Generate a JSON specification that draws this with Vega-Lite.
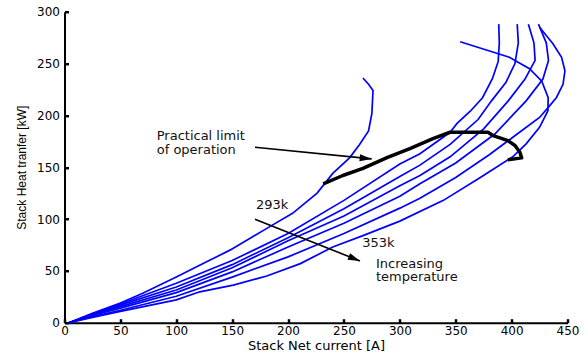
{
  "$schema": "https://vega.github.io/schema/vega-lite/v6.json",
  "width": 503,
  "height": 311,
  "autosize": {"type": "none"},
  "padding": {"left": 64.5, "top": 11.7, "right": 20.5, "bottom": 40.3},
  "background": "white",
  "config": {
    "view": {"stroke": null},
    "axis": {
      "grid": false,
      "domainColor": "#000",
      "domainWidth": 2,
      "tickColor": "#000",
      "tickWidth": 2.5,
      "tickSize": -4,
      "labelColor": "#000",
      "labelFont": "DejaVu Sans",
      "labelFontSize": 12,
      "labelFlush": false,
      "labelOverlap": false,
      "titleColor": "#000",
      "titleFontWeight": "normal"
    }
  },
  "datasets": {
    "curves": [
      {"s":"293k","i":0,"x":4,"y":0},{"s":"293k","i":1,"x":25,"y":9},{"s":"293k","i":2,"x":50,"y":19},{"s":"293k","i":3,"x":70,"y":28.5},{"s":"293k","i":4,"x":100,"y":44},{"s":"293k","i":5,"x":124,"y":57},{"s":"293k","i":6,"x":148,"y":70},{"s":"293k","i":7,"x":181,"y":91},{"s":"293k","i":8,"x":204,"y":105.5},{"s":"293k","i":9,"x":226,"y":125},{"s":"293k","i":10,"x":240,"y":144},{"s":"293k","i":11,"x":255,"y":159},{"s":"293k","i":12,"x":264,"y":172},{"s":"293k","i":13,"x":272,"y":185},{"s":"293k","i":14,"x":275,"y":202},{"s":"293k","i":15,"x":276,"y":224},{"s":"293k","i":16,"x":272,"y":230},{"s":"293k","i":17,"x":267,"y":236},
      {"s":"303k","i":0,"x":4,"y":0},{"s":"303k","i":1,"x":25,"y":8.5},{"s":"303k","i":2,"x":50,"y":18},{"s":"303k","i":3,"x":100,"y":38},{"s":"303k","i":4,"x":150,"y":60},{"s":"303k","i":5,"x":200,"y":86},{"s":"303k","i":6,"x":250,"y":118},{"s":"303k","i":7,"x":300,"y":153},{"s":"303k","i":8,"x":318,"y":163},{"s":"303k","i":9,"x":345,"y":183.7},{"s":"303k","i":10,"x":351,"y":192},{"s":"303k","i":11,"x":363,"y":204},{"s":"303k","i":12,"x":374,"y":217},{"s":"303k","i":13,"x":383,"y":236},{"s":"303k","i":14,"x":388,"y":252},{"s":"303k","i":15,"x":389,"y":270},{"s":"303k","i":16,"x":388.5,"y":288},
      {"s":"313k","i":0,"x":4,"y":0},{"s":"313k","i":1,"x":25,"y":8},{"s":"313k","i":2,"x":50,"y":17},{"s":"313k","i":3,"x":100,"y":34.5},{"s":"313k","i":4,"x":150,"y":56},{"s":"313k","i":5,"x":200,"y":82},{"s":"313k","i":6,"x":250,"y":110},{"s":"313k","i":7,"x":300,"y":141},{"s":"313k","i":8,"x":318,"y":152},{"s":"313k","i":9,"x":345,"y":172},{"s":"313k","i":10,"x":370,"y":196},{"s":"313k","i":11,"x":382,"y":214},{"s":"313k","i":12,"x":395,"y":232},{"s":"313k","i":13,"x":403,"y":250},{"s":"313k","i":14,"x":406,"y":270},{"s":"313k","i":15,"x":405,"y":288},
      {"s":"323k","i":0,"x":4,"y":0},{"s":"323k","i":1,"x":25,"y":7.5},{"s":"323k","i":2,"x":50,"y":15.5},{"s":"323k","i":3,"x":100,"y":31.5},{"s":"323k","i":4,"x":150,"y":53},{"s":"323k","i":5,"x":200,"y":79},{"s":"323k","i":6,"x":250,"y":103},{"s":"323k","i":7,"x":300,"y":132},{"s":"323k","i":8,"x":318,"y":142},{"s":"323k","i":9,"x":345,"y":160},{"s":"323k","i":10,"x":375,"y":187},{"s":"323k","i":11,"x":397,"y":214},{"s":"323k","i":12,"x":412,"y":235},{"s":"323k","i":13,"x":421,"y":253},{"s":"323k","i":14,"x":420,"y":270},{"s":"323k","i":15,"x":415,"y":288},
      {"s":"333k","i":0,"x":4,"y":0},{"s":"333k","i":1,"x":25,"y":7},{"s":"333k","i":2,"x":50,"y":14},{"s":"333k","i":3,"x":100,"y":29},{"s":"333k","i":4,"x":150,"y":49},{"s":"333k","i":5,"x":200,"y":73},{"s":"333k","i":6,"x":250,"y":96},{"s":"333k","i":7,"x":300,"y":122},{"s":"333k","i":8,"x":318,"y":134},{"s":"333k","i":9,"x":350,"y":154},{"s":"333k","i":10,"x":385,"y":182},{"s":"333k","i":11,"x":413,"y":214},{"s":"333k","i":12,"x":428,"y":235},{"s":"333k","i":13,"x":433,"y":253},{"s":"333k","i":14,"x":431,"y":270},{"s":"333k","i":15,"x":424,"y":288},
      {"s":"343k","i":0,"x":4,"y":0},{"s":"343k","i":1,"x":25,"y":6},{"s":"343k","i":2,"x":50,"y":12},{"s":"343k","i":3,"x":100,"y":25.5},{"s":"343k","i":4,"x":150,"y":44},{"s":"343k","i":5,"x":200,"y":63.5},{"s":"343k","i":6,"x":250,"y":86},{"s":"343k","i":7,"x":300,"y":110.5},{"s":"343k","i":8,"x":318,"y":120},{"s":"343k","i":9,"x":350,"y":140},{"s":"343k","i":10,"x":380,"y":162},{"s":"343k","i":11,"x":405,"y":182},{"s":"343k","i":12,"x":425,"y":198},{"s":"343k","i":13,"x":433,"y":208},{"s":"343k","i":14,"x":440,"y":217},{"s":"343k","i":15,"x":446,"y":230},{"s":"343k","i":16,"x":447.7,"y":243},{"s":"343k","i":17,"x":444.7,"y":256},{"s":"343k","i":18,"x":437,"y":269},{"s":"343k","i":19,"x":425,"y":285},
      {"s":"353k","i":0,"x":4,"y":0},{"s":"353k","i":1,"x":25,"y":5},{"s":"353k","i":2,"x":50,"y":11},{"s":"353k","i":3,"x":100,"y":22},{"s":"353k","i":4,"x":121,"y":29.8},{"s":"353k","i":5,"x":151,"y":36.3},{"s":"353k","i":6,"x":181,"y":45},{"s":"353k","i":7,"x":211,"y":57},{"s":"353k","i":8,"x":240,"y":73},{"s":"353k","i":9,"x":267,"y":84},{"s":"353k","i":10,"x":300,"y":98},{"s":"353k","i":11,"x":339,"y":118},{"s":"353k","i":12,"x":372,"y":140},{"s":"353k","i":13,"x":401,"y":160},{"s":"353k","i":14,"x":413,"y":172.5},{"s":"353k","i":15,"x":425,"y":188.5},{"s":"353k","i":16,"x":432.5,"y":204.5},{"s":"353k","i":17,"x":432.7,"y":217},{"s":"353k","i":18,"x":427,"y":233},{"s":"353k","i":19,"x":416,"y":245},{"s":"353k","i":20,"x":398,"y":256},{"s":"353k","i":21,"x":354,"y":271}
    ],
    "limit": [
      {"i":0,"x":231.5,"y":134},{"i":1,"x":249,"y":142},{"i":2,"x":267,"y":148.8},{"i":3,"x":288.5,"y":159.3},{"i":4,"x":309,"y":168},{"i":5,"x":329.6,"y":177.6},{"i":6,"x":345,"y":183.7},{"i":7,"x":378.8,"y":183.7},{"i":8,"x":383.3,"y":180.5},{"i":9,"x":389.5,"y":178.3},{"i":10,"x":396.7,"y":175.7},{"i":11,"x":403,"y":170.9},{"i":12,"x":407.4,"y":164.4},{"i":13,"x":409,"y":159},{"i":14,"x":396.7,"y":157.1}
    ],
    "arrows": [
      {"id":"a1","x":170.4,"y":169.2,"x2":274.8,"y2":158},
      {"id":"a2","x":170.4,"y":99.7,"x2":264.3,"y2":59.6}
    ],
    "labels": [
      {"t":"Practical limit","x":82.5,"y":180.5},
      {"t":"of operation","x":82.5,"y":167},
      {"t":"293k","x":171.3,"y":113.2},
      {"t":"353k","x":266.4,"y":76.9},
      {"t":"Increasing","x":278.6,"y":57.1},
      {"t":"temperature","x":278.6,"y":43.7}
    ]
  },
  "layer": [
    {
      "data": {"name": "curves"},
      "mark": {"type": "line", "color": "#0000ff", "strokeWidth": 1.7, "interpolate": "linear"},
      "encoding": {
        "x": {"field": "x", "type": "quantitative", "scale": {"domain": [0, 450], "nice": false}, "axis": {"title": "Stack Net current [A]", "values": [0,50,100,150,200,250,300,350,400,450], "labelPadding": 7, "titleFont": "DejaVu Sans", "titleFontSize": 13, "titlePadding": 3}},
        "y": {"field": "y", "type": "quantitative", "scale": {"domain": [0, 300], "nice": false}, "axis": {"title": "Stack Heat tranfer [kW]", "values": [0,50,100,150,200,250,300], "labelPadding": 9, "titleFont": "Liberation Sans", "titleFontSize": 12, "titlePadding": 8}},
        "detail": {"field": "s", "type": "nominal"},
        "order": {"field": "i", "type": "quantitative"}
      }
    },
    {
      "data": {"name": "limit"},
      "mark": {"type": "line", "color": "#000", "strokeWidth": 3.5, "strokeJoin": "round"},
      "encoding": {
        "x": {"field": "x", "type": "quantitative"},
        "y": {"field": "y", "type": "quantitative"},
        "order": {"field": "i", "type": "quantitative"}
      }
    },
    {
      "data": {"name": "arrows"},
      "mark": {"type": "rule", "color": "#000", "strokeWidth": 1.6},
      "encoding": {
        "x": {"field": "x", "type": "quantitative"},
        "y": {"field": "y", "type": "quantitative"},
        "x2": {"field": "x2"},
        "y2": {"field": "y2"}
      }
    },
    {
      "data": {"name": "arrows"},
      "transform": [{"filter": "datum.id === 'a1'"}],
      "mark": {"type": "point", "shape": "M0,0 L-2,-0.6 L-2,0.6 Z", "filled": true, "color": "#000", "opacity": 1, "size": 144, "angle": 5.7},
      "encoding": {
        "x": {"field": "x2", "type": "quantitative"},
        "y": {"field": "y2", "type": "quantitative"}
      }
    },
    {
      "data": {"name": "arrows"},
      "transform": [{"filter": "datum.id === 'a2'"}],
      "mark": {"type": "point", "shape": "M0,0 L-2,-0.6 L-2,0.6 Z", "filled": true, "color": "#000", "opacity": 1, "size": 144, "angle": 21.7},
      "encoding": {
        "x": {"field": "x2", "type": "quantitative"},
        "y": {"field": "y2", "type": "quantitative"}
      }
    },
    {
      "data": {"name": "labels"},
      "mark": {"type": "text", "align": "left", "baseline": "middle", "font": "DejaVu Sans", "fontSize": 13, "color": "#111"},
      "encoding": {
        "x": {"field": "x", "type": "quantitative"},
        "y": {"field": "y", "type": "quantitative"},
        "text": {"field": "t", "type": "nominal"}
      }
    }
  ]
}
